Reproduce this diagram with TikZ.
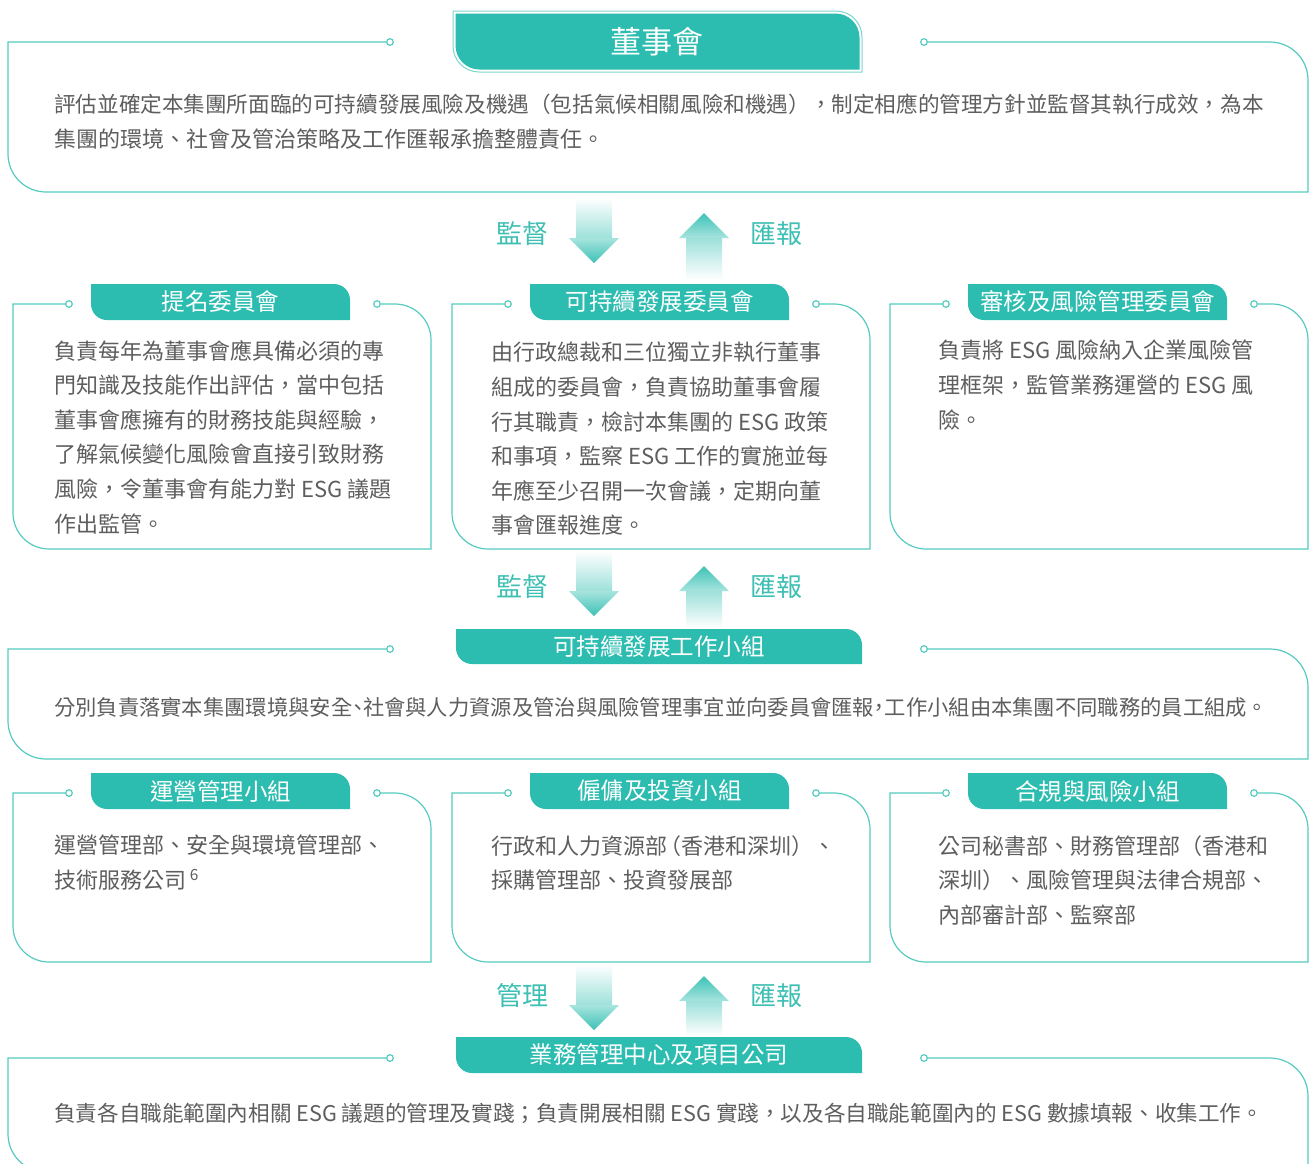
\documentclass[tikz,border=0pt]{standalone}
\usepackage{fontspec}
\setmainfont{Noto Sans CJK TC}
\definecolor{hdrc}{HTML}{2CBCB0}
\definecolor{framec}{HTML}{55CBC1}
\definecolor{outerc}{HTML}{7DD6CE}
\definecolor{labc}{HTML}{3DBFB3}
\definecolor{bodyc}{HTML}{5E5E5E}
\definecolor{arrc}{HTML}{3CC2B6}
\newcommand\myhp[1]{{\addfontfeature{RawFeature=+halt}#1}}
% frame: left top right bottom c1 c2 radius
\newcommand\myframe[7]{%
  \draw[frameline] (#5,#2) -- (#1,#2) -- (#1,#4-#7) arc[start angle=180,end angle=90,radius=#7]
    -- (#3,#4) -- (#3,#2+#7) arc[start angle=0,end angle=-90,radius=#7] -- (#6,#2);
  \draw[frameline,fill=white] (#5,#2) circle[radius=3.3];
  \draw[frameline,fill=white] (#6,#2) circle[radius=3.3];}
% header shape: x1 y1 x2 y2 radius style
\newcommand\myhdrshape[6]{%
  \path[#6] (#1,#2) -- (#3-#5,#2) arc[start angle=-90,end angle=0,radius=#5]
    -- (#3,#4) -- (#1+#5,#4) arc[start angle=90,end angle=180,radius=#5] -- cycle;}
% down arrow: cx shafttop headbase tip
\newcommand\myarrdown[4]{%
  \shade[top color=white,bottom color=arrc!50] (#1-18,#2) rectangle (#1+18,#3);
  \shade[top color=arrc!45,bottom color=arrc] (#1-25,#3) -- (#1+25,#3) -- (#1,#4) -- cycle;}
% up arrow: cx tip headbase shaftbottom
\newcommand\myarrup[4]{%
  \shade[top color=arrc,bottom color=arrc!45] (#1,#2) -- (#1+25,#3) -- (#1-25,#3) -- cycle;
  \shade[top color=arrc!50,bottom color=white] (#1-18,#3) rectangle (#1+18,#4);}
\begin{document}
\begin{tikzpicture}[x=1pt,y=-1pt,
  frameline/.style={draw=framec,line width=1.2pt},
  hdrtext/.style={text=white,font=\fontsize{23.5}{28}\selectfont,inner sep=0},
  body/.style={text=bodyc,font=\fontsize{22}{34.6}\selectfont,align=left,inner sep=0,anchor=north west},
  flowlabel/.style={text=labc,font=\fontsize{26}{30}\selectfont,inner sep=0}]
\useasboundingbox (0,0) rectangle (1310,1163);
\fill[white] (0,0) rectangle (1310,1163);

% ---------- Board ----------
\myframe{8}{42}{1308}{192}{390}{924}{38}
\myhdrshape{453}{11}{862}{72}{26}{draw=outerc,line width=1pt,fill=white}
\myhdrshape{455.5}{13.5}{859.5}{69.5}{24}{fill=hdrc}
\node[hdrtext,font=\fontsize{31}{36}\selectfont] (board) at (657,42) {董事會};
\node[body] (boardTxt) at (54,94) {{\fontsize{21.6}{34.6}\selectfont 評估並確定本集團所面臨的可持續發展風險及機遇（包括氣候相關風險和機遇），制定相應的管理方針並監督其執行成效，為本}\\集團的環境、社會及管治策略及工作匯報承擔整體責任。};

% ---------- arrows 1 ----------
\myarrdown{594}{198}{238}{263}
\myarrup{704}{213}{238}{280}
\node[flowlabel] (sup1) at (522,234) {監督};
\node[flowlabel] (rep1) at (776,234) {匯報};

% ---------- committees ----------
\myframe{13}{304}{431}{549}{69}{377}{36}
\myhdrshape{91}{284}{350}{320}{16}{fill=hdrc}
\node[hdrtext] (nomHdr) at (220.5,302) {提名委員會};
\node[body] (nomTxt) at (54,340) {負責每年為董事會應具備必須的專\\門知識及技能作出評估，當中包括\\董事會應擁有的財務技能與經驗，\\了解氣候變化風險會直接引致財務\\風險，令董事會有能力對 ESG 議題\\作出監管。};

\myframe{452}{304}{870}{549}{508}{816}{36}
\myhdrshape{530}{284}{789}{320}{16}{fill=hdrc}
\node[hdrtext] (susHdr) at (659.5,302) {可持續發展委員會};
\node[body] (susTxt) at (491,342) {由行政總裁和三位獨立非執行董事\\組成的委員會，負責協助董事會履\\行其職責，檢討本集團的 ESG 政策\\和事項，監察 ESG 工作的實施並每\\年應至少召開一次會議，定期向董\\事會匯報進度。};

\myframe{890}{304}{1308}{549}{946}{1254}{36}
\myhdrshape{968}{284}{1227}{320}{16}{fill=hdrc}
\node[hdrtext] (audHdr) at (1097.5,302) {審核及風險管理委員會};
\node[body] (audTxt) at (938,340) {負責將 ESG 風險納入企業風險管\\理框架，監管業務運營的 ESG 風\\險。};

% ---------- arrows 2 ----------
\myarrdown{594}{551}{591}{616}
\myarrup{704}{566}{591}{628}
\node[flowlabel] (sup2) at (522,587) {監督};
\node[flowlabel] (rep2) at (776,587) {匯報};

% ---------- working group ----------
\myframe{8}{649}{1308}{759}{390}{924}{38}
\myhdrshape{456}{629}{862}{664}{16}{fill=hdrc}
\node[hdrtext] (wgHdr) at (659,647) {可持續發展工作小組};
\node[body,font=\fontsize{21.3}{34.6}\selectfont] (wgTxt) at (54,697) {分別負責落實本集團環境與安全\myhp{、}社會與人力資源及管治與風險管理事宜並向委員會匯報\myhp{，}工作小組由本集團不同職務的員工組成。};

% ---------- sub groups ----------
\myframe{13}{793}{431}{962}{69}{377}{36}
\myhdrshape{91}{773}{350}{809}{16}{fill=hdrc}
\node[hdrtext] (opHdr) at (220.5,791) {運營管理小組};
\node[body] (opTxt) at (54,835) {運營管理部、安全與環境管理部、\\技術服務公司\,\textsuperscript{6}};

\myframe{452}{793}{870}{962}{508}{816}{36}
\myhdrshape{530}{773}{789}{809}{16}{fill=hdrc}
\node[hdrtext] (hrHdr) at (659.5,791) {僱傭及投資小組};
\node[body] (hrTxt) at (491,835) {行政和人力資源部\kern-0.35em（香港和深圳）、\\採購管理部、投資發展部};

\myframe{890}{793}{1308}{962}{946}{1254}{36}
\myhdrshape{968}{773}{1227}{809}{16}{fill=hdrc}
\node[hdrtext] (crHdr) at (1097.5,791) {合規與風險小組};
\node[body] (crTxt) at (938,835) {公司秘書部、財務管理部（香港和\\深圳）、風險管理與法律合規部、\\內部審計部、監察部};

% ---------- arrows 3 ----------
\myarrdown{594}{964}{1005}{1030}
\myarrup{704}{976}{1001}{1036}
\node[flowlabel] (mgt3) at (522,996) {管理};
\node[flowlabel] (rep3) at (776,996) {匯報};

% ---------- business centres ----------
\myframe{8}{1058}{1308}{1172}{390}{924}{38}
\myhdrshape{456}{1037}{862}{1073}{16}{fill=hdrc}
\node[hdrtext] (bizHdr) at (659,1055) {業務管理中心及項目公司};
\node[body,font=\fontsize{21.6}{34.6}\selectfont] (bizTxt) at (54,1103) {負責各自職能範圍內相關 ESG 議題的管理及實踐；負責開展相關 ESG 實踐，以及各自職能範圍內的 ESG 數據填報、收集工作。};
\end{tikzpicture}
\end{document}
